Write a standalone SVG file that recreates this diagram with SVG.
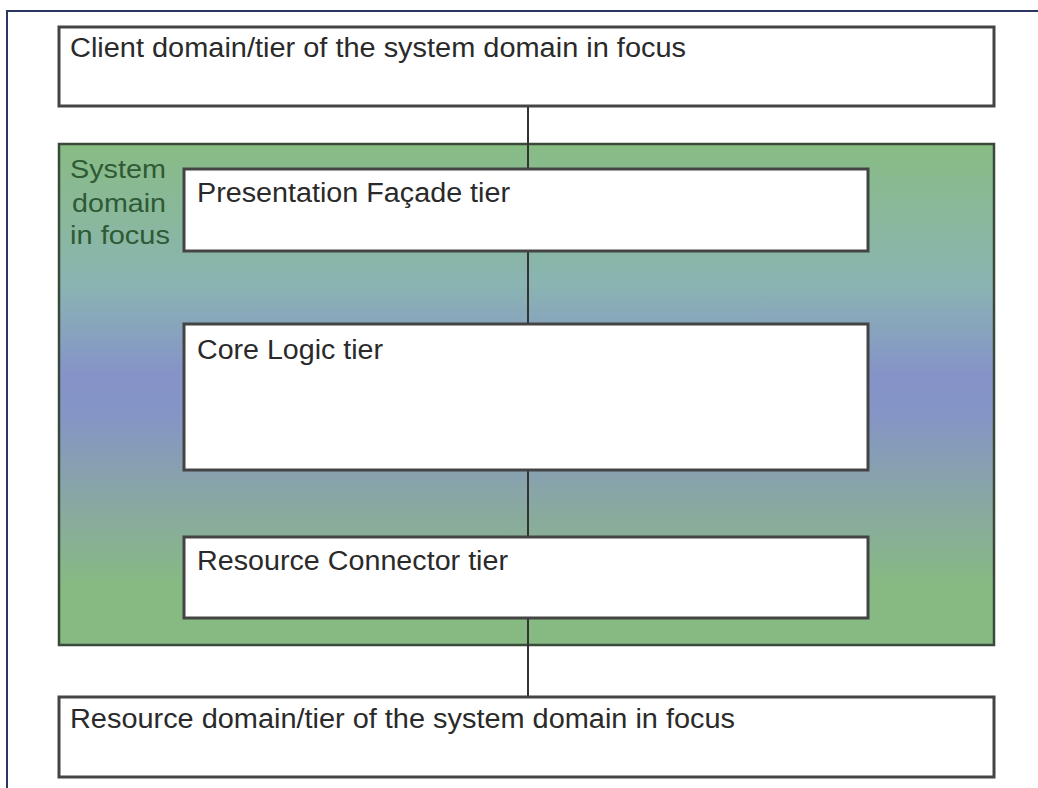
<svg xmlns="http://www.w3.org/2000/svg" width="1038" height="788" viewBox="0 0 1038 788">
<style>
.box{fill:#fff;stroke:#444;stroke-width:3}
.lbl{font-family:"Liberation Sans",Arial,sans-serif;font-size:27px;fill:#2a2a2a}
.sys{font-family:"Liberation Sans",Arial,sans-serif;font-size:25px;fill:#2f5a35}
.conn{stroke:#333;stroke-width:2;fill:none}
</style>
<defs>
<linearGradient id="g" x1="0" y1="0" x2="0" y2="1">
<stop offset="0" stop-color="#88bc84"/>
<stop offset="0.28" stop-color="#8ab4b2"/>
<stop offset="0.46" stop-color="#8593c8"/>
<stop offset="0.54" stop-color="#8595c6"/>
<stop offset="0.74" stop-color="#89aa9e"/>
<stop offset="0.88" stop-color="#86ba82"/>
<stop offset="1" stop-color="#86ba82"/>
</linearGradient>
</defs>
<rect width="1038" height="788" fill="#fff"/>
<path d="M7,788 V11 H1038" fill="none" stroke="#2a3560" stroke-width="2"/>
<g id="system">
<rect x="59" y="144" width="935" height="501" fill="url(#g)" stroke="#3a4a3a" stroke-width="2.5"/>
<text class="sys" x="70" y="178" textLength="96" lengthAdjust="spacingAndGlyphs">System</text>
<text class="sys" x="72" y="212" textLength="94" lengthAdjust="spacingAndGlyphs">domain</text>
<text class="sys" x="70" y="244" textLength="100" lengthAdjust="spacingAndGlyphs">in focus</text>
</g>
<g id="connectors">
<line class="conn" x1="528" y1="106" x2="528" y2="169"/>
<line class="conn" x1="528" y1="251" x2="528" y2="324"/>
<line class="conn" x1="528" y1="470" x2="528" y2="537"/>
<line class="conn" x1="528" y1="618" x2="528" y2="697"/>
</g>
<g id="client">
<rect class="box" x="59" y="27" width="935" height="79"/>
<text class="lbl" x="70" y="57" textLength="616" lengthAdjust="spacingAndGlyphs">Client domain/tier of the system domain in focus</text>
</g>
<g id="presentation">
<rect class="box" x="184" y="169" width="684" height="82"/>
<text class="lbl" x="197" y="202" textLength="313" lengthAdjust="spacingAndGlyphs">Presentation Façade tier</text>
</g>
<g id="core">
<rect class="box" x="184" y="324" width="684" height="146"/>
<text class="lbl" x="197" y="359" textLength="186" lengthAdjust="spacingAndGlyphs">Core Logic tier</text>
</g>
<g id="connector">
<rect class="box" x="184" y="537" width="684" height="81"/>
<text class="lbl" x="197" y="570" textLength="311" lengthAdjust="spacingAndGlyphs">Resource Connector tier</text>
</g>
<g id="resource">
<rect class="box" x="59" y="697" width="935" height="80"/>
<text class="lbl" x="70" y="728" textLength="665" lengthAdjust="spacingAndGlyphs">Resource domain/tier of the system domain in focus</text>
</g>
</svg>
